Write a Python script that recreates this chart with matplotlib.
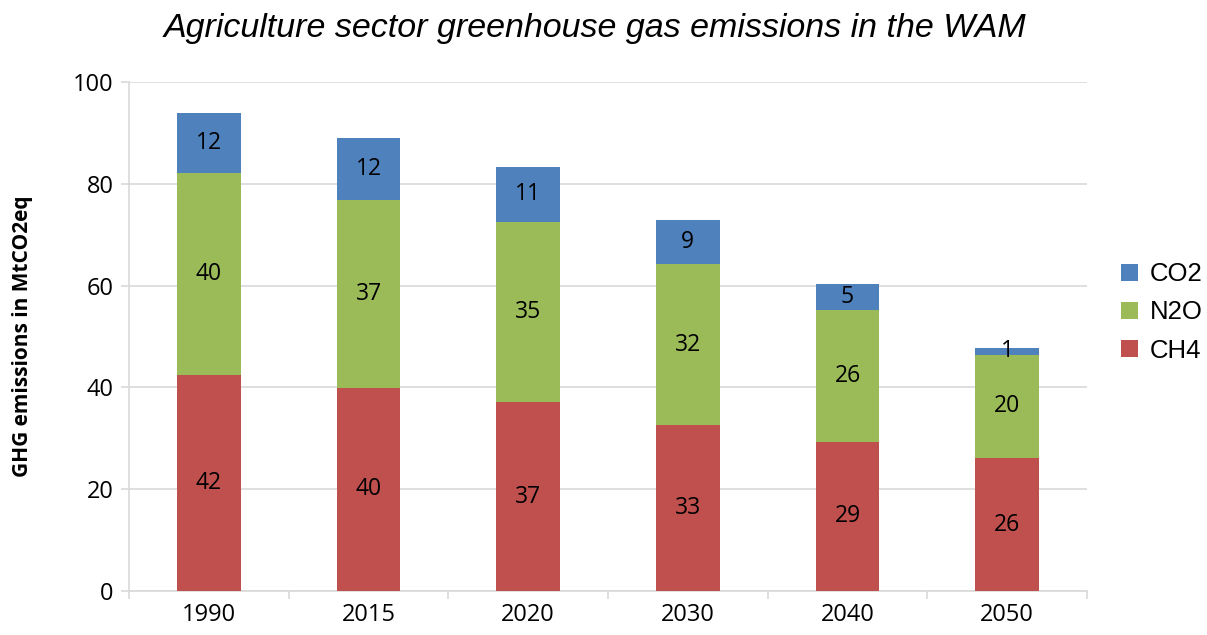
import numpy as np
import matplotlib.pyplot as plt

years = ["1990", "2015", "2020", "2030", "2040", "2050"]
ch4 = [42.4, 39.9, 37.1, 32.6, 29.3, 26.1]
n2o = [39.7, 36.9, 35.4, 31.6, 25.9, 20.3]
co2 = [11.8, 12.2, 10.8, 8.7, 5.1, 1.4]

colors = {"CH4": "#C0504D", "N2O": "#9BBB59", "CO2": "#4F81BD"}
label_font = "Open Sans"
grid_color = "#D9D9D9"

fig = plt.figure(figsize=(12.07, 6.35), dpi=100)
ax = fig.add_axes([0.1069, 0.0693, 0.7937, 0.8017])

x = np.arange(len(years))
width = 0.40
bottom = np.zeros(len(years))
bars = {}
for name, vals in [("CH4", ch4), ("N2O", n2o), ("CO2", co2)]:
    vals = np.array(vals)
    bars[name] = ax.bar(x, vals, width, bottom=bottom, color=colors[name],
                        label=name, zorder=3)
    for xi, b, v in zip(x, bottom, vals):
        ax.text(xi, b + v / 2, f"{v:.0f}", ha="center", va="center",
                fontsize=16.5, family=label_font, zorder=4)
    bottom = bottom + vals

ax.set_xlim(-0.5, len(years) - 0.5)
ax.set_ylim(0, 100)
ax.set_yticks(range(0, 101, 20))
ax.yaxis.grid(True, color=grid_color, linewidth=1.2, zorder=0)
ax.set_axisbelow(True)

ax.set_xticks(x)
ax.set_xticklabels(years)
ax.set_xticks(np.arange(-0.5, len(years)), minor=True)
ax.tick_params(axis="x", which="major", length=0, pad=9)
ax.tick_params(axis="x", which="minor", length=6, color=grid_color, width=1.2)
ax.tick_params(axis="y", length=6, color=grid_color, width=1.2, pad=5)
for lab in ax.get_xticklabels() + ax.get_yticklabels():
    lab.set_family(label_font)
    lab.set_fontsize(17)

for side in ["top", "right"]:
    ax.spines[side].set_visible(False)
for side in ["left", "bottom"]:
    ax.spines[side].set_color(grid_color)
    ax.spines[side].set_linewidth(1.2)

ax.set_ylabel("GHG emissions in MtCO2eq", fontsize=15, fontweight="bold",
              family=label_font, labelpad=29)

fig.text(0.493, 0.955, "Agriculture sector greenhouse gas emissions in the WAM",
         ha="center", va="center", fontsize=24.5, style="italic",
         family="Liberation Sans")

handles = [bars["CO2"], bars["N2O"], bars["CH4"]]
leg = fig.legend(handles, ["CO2", "N2O", "CH4"], loc="center left",
                 bbox_to_anchor=(0.929, 0.508), frameon=False,
                 prop={"family": "Liberation Sans", "size": 18.5},
                 handlelength=0.65, handleheight=0.65, handletextpad=0.45,
                 labelspacing=0.55, borderpad=0, borderaxespad=0)

fig.savefig("out.png", dpi=100)
